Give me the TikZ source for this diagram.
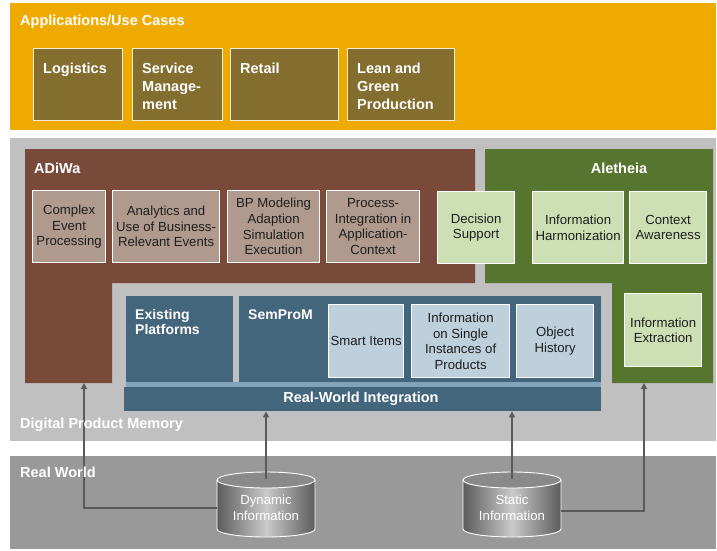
\documentclass[tikz,border=0pt]{standalone}
\usepackage{fontspec}
\setmainfont{Liberation Sans}
\usetikzlibrary{arrows.meta}
\definecolor{appY}{HTML}{EFAA00}
\definecolor{appBox}{HTML}{836D2F}
\definecolor{appLine}{HTML}{F4ECD4}
\definecolor{dpmG}{HTML}{C0C0C0}
\definecolor{rwG}{HTML}{999999}
\definecolor{adiB}{HTML}{794A39}
\definecolor{adiL}{HTML}{B09A8E}
\definecolor{aleG}{HTML}{56752F}
\definecolor{aleL}{HTML}{CDE0B5}
\definecolor{semB}{HTML}{44667D}
\definecolor{semL}{HTML}{BDD0DC}
\definecolor{semS}{HTML}{82A3BA}
\definecolor{txtD}{HTML}{1E1E1E}
\definecolor{arrC}{HTML}{5A5A5A}
\definecolor{cylD}{HTML}{5C5C5C}
\definecolor{cylM}{HTML}{CACACA}
\definecolor{cylT}{HTML}{8A8A8A}
\newcommand\cylbody[1]{%
  \shade[left color=cylD, right color=cylD, middle color=cylM]
    (#1-49,480) -- (#1-49,529) arc[start angle=180, end angle=360, x radius=49pt, y radius=8pt]
    -- (#1+49,480) arc[start angle=0, end angle=180, x radius=49pt, y radius=8pt] -- cycle;
  \draw[white, line width=0.9pt]
    (#1-49,480) -- (#1-49,529) arc[start angle=180, end angle=360, x radius=49pt, y radius=8pt]
    -- (#1+49,480);
  \filldraw[fill=cylT, draw=white, line width=0.9pt] (#1,480) ellipse [x radius=49pt, y radius=8pt];
}
\begin{document}
\begin{tikzpicture}[x=1pt, y=-1pt,
  band/.style={anchor=north west, inner sep=0pt, outer sep=0pt, draw=none},
  title/.style={text=white, inner sep=0pt, font=\fontsize{14.5}{17}\selectfont\bfseries},
  ybox/.style={anchor=north west, fill=appBox, draw=appLine, line width=1.2pt, inner sep=0pt},
  ytext/.style={anchor=north west, inner sep=0pt, align=left, text=white, font=\fontsize{14.5}{18}\selectfont\bfseries},
  lbox/.style={anchor=north west, draw=white, line width=1.2pt, inner sep=0pt, align=center, text=txtD, font=\fontsize{13.2}{15.6}\selectfont},
  bbox/.style={anchor=north west, fill=semB, inner sep=0pt, draw=none},
  arr/.style={draw=arrC, line width=1.3pt, -{Triangle[length=6pt, width=6pt]}},
  cyltext/.style={inner sep=0pt, minimum width=98pt, minimum height=58pt, align=center, text=white, font=\fontsize{13.2}{16}\selectfont}
]
\useasboundingbox (0,0) rectangle (717,550);

% bands
\node[band, fill=appY, minimum width=706pt, minimum height=127pt] (apps) at (10,3) {};
\node[band, fill=dpmG, minimum width=706pt, minimum height=303pt] (dpm) at (10,138) {};
\node[band, fill=rwG, minimum width=706pt, minimum height=93pt] (rw) at (10,456) {};

\node[title, anchor=base west] (appsT) at (20,25.5) {Applications/Use Cases};

% application boxes
\node[ybox, minimum width=89pt, minimum height=72pt] (logi) at (33,48) {};
\node[ybox, minimum width=90pt, minimum height=72pt] (serv) at (132,48) {};
\node[ybox, minimum width=108pt, minimum height=72pt] (retail) at (230,48) {};
\node[ybox, minimum width=107pt, minimum height=72pt] (lean) at (347,48) {};
\node[ytext] (logiT) at ([shift={(10,14.5)}]logi.north west) {Logistics};
\node[ytext] (servT) at ([shift={(10,14.5)}]serv.north west) {Service\\Manage-\\ment};
\node[ytext] (retailT) at ([shift={(10,14.5)}]retail.north west) {Retail};
\node[ytext] (leanT) at ([shift={(10,14.5)}]lean.north west) {Lean and\\Green\\Production};

% ADiWa and Aletheia regions
\fill[adiB] (25,149) -- (475,149) -- (475,283) -- (112,283) -- (112,383) -- (25,383) -- cycle;
\fill[aleG] (485,149) -- (713,149) -- (713,383) -- (612,383) -- (612,283) -- (485,283) -- cycle;
\coordinate (adiBottom) at (84,383);
\coordinate (aleBottom) at (644,383);
\node[title, anchor=base west] (adiT) at (34,173) {ADiWa};
\node[title, anchor=base] (aleT) at (619,173) {Aletheia};

\node[lbox, fill=adiL, minimum width=73pt, minimum height=72pt] (cep) at (32,190) {Complex\\Event\\Processing};
\node[lbox, fill=adiL, minimum width=107pt, minimum height=72pt] (ana) at (112,190) {Analytics and\\Use of Business-\\Relevant Events};
\node[lbox, fill=adiL, minimum width=92pt, minimum height=72pt] (bpm) at (227,190) {BP Modeling\\Adaption\\Simulation\\Execution};
\node[lbox, fill=adiL, minimum width=93pt, minimum height=72pt] (pint) at (326,190) {Process-\\Integration in\\Application-\\Context};

\node[lbox, fill=aleL, minimum width=77pt, minimum height=72pt] (dec) at (437,191) {Decision\\Support};
\node[lbox, fill=aleL, minimum width=91pt, minimum height=72pt] (harm) at (532,191) {Information\\Harmonization};
\node[lbox, fill=aleL, minimum width=77pt, minimum height=72pt] (ctx) at (629,191) {Context\\Awareness};
\node[lbox, fill=aleL, minimum width=77pt, minimum height=73pt] (ext) at (624,293) {Information\\Extraction};

% SemProM area
\node[bbox, minimum width=107pt, minimum height=87pt] (exist) at (126,296) {};
\node[bbox, minimum width=362pt, minimum height=87pt] (semp) at (239,296) {};
\fill[semS] (126,382) rectangle (601,387);
\node[bbox, minimum width=477pt, minimum height=24pt] (rwi) at (124,387) {};
\node[title, anchor=north west, align=left, font=\fontsize{14}{15.5}\selectfont\bfseries] (existT) at (135,308.8) {Existing\\Platforms};
\node[title, anchor=base west, font=\fontsize{14}{15.5}\selectfont\bfseries] (sempT) at (248,319) {SemProM};
\node[title, anchor=base] (rwiT) at (361,402.5) {Real-World Integration};

\node[lbox, fill=semL, minimum width=75pt, minimum height=73pt] (smart) at (328,304) {Smart Items};
\node[lbox, fill=semL, minimum width=98pt, minimum height=73pt] (single) at (411,304) {Information\\on Single\\Instances of\\Products};
\node[lbox, fill=semL, minimum width=77pt, minimum height=73pt] (hist) at (516,304) {Object\\History};

% cylinders
\cylbody{266}
\cylbody{512}
\node[cyltext] (dyn) at (266,508) {Dynamic\\Information};
\node[cyltext] (stat) at (512,508) {Static\\Information};

% connectors
\draw[arr] (dyn.west) -| (adiBottom);
\draw[arr] (dyn.north) -- (dyn.north |- rwi.south);
\draw[arr] (stat.north) -- (stat.north |- rwi.south);
\draw[arr] ([yshift=-3pt]stat.east) -| (aleBottom);

% band titles drawn over the connectors
\node[title, anchor=base west] (dpmT) at (20,428) {Digital Product Memory};
\node[title, anchor=base west] (rwT) at (20,477.5) {Real World};
\end{tikzpicture}
\end{document}
